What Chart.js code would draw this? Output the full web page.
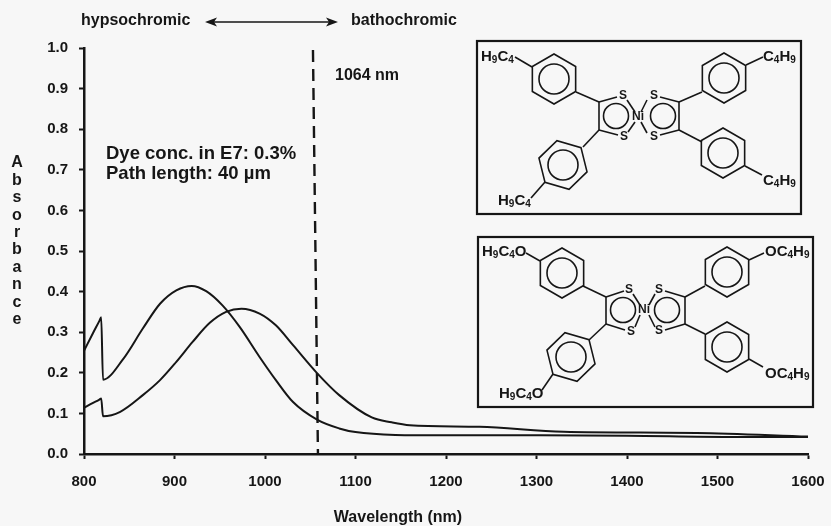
<!DOCTYPE html>
<html>
<head>
<meta charset="utf-8">
<style>
  html, body { margin: 0; padding: 0; background: #f7f7f7; }
  canvas { display: block; }
</style>
<script src="https://cdn.jsdelivr.net/npm/chart.js@4"></script>
</head>
<body>
<canvas id="absorbanceChart" width="831" height="526"></canvas>
<script>
// Series
const butylWavelength = [800, 810, 817, 819, 821, 843, 865, 884, 902, 919, 935, 953, 972, 994, 1012, 1031, 1058, 1082, 1100, 1144, 1200, 1300, 1400, 1513, 1600];
const butylAbsorbance = [0.254, 0.298, 0.328, 0.337, 0.183, 0.233, 0.309, 0.37, 0.403, 0.414, 0.401, 0.366, 0.313, 0.239, 0.182, 0.128, 0.084, 0.063, 0.054, 0.047, 0.046, 0.046, 0.045, 0.042, 0.042];
const butoxyWavelength = [800, 810, 817, 819, 821, 840, 865, 884, 902, 920, 939, 957, 974, 994, 1012, 1031, 1058, 1082, 1118, 1140, 1160, 1237, 1330, 1477, 1600];
const butoxyAbsorbance = [0.114, 0.126, 0.134, 0.137, 0.093, 0.104, 0.145, 0.182, 0.227, 0.276, 0.323, 0.35, 0.358, 0.346, 0.317, 0.268, 0.198, 0.145, 0.09, 0.078, 0.071, 0.067, 0.055, 0.052, 0.043];
const markerWavelength = [1053, 1058.5];
const markerAbsorbance = [0.995, 0.0];

const xTicks = [800, 900, 1000, 1100, 1200, 1300, 1400, 1500, 1600];
const yTicks = [0, 0.1, 0.2, 0.3, 0.4, 0.5, 0.6, 0.7, 0.8, 0.9, 1.0];
const yAxisLetters = ['A', 'b', 's', 'o', 'r', 'b', 'a', 'n', 'c', 'e'];

const inkColor = '#161616';
const fontFamily = '"Liberation Sans", Arial, sans-serif';

// Structure drawings, coordinates are relative to each box corner
// rings are [x, y, rotation in degrees]
const butylStructure = {
    box: [477, 41, 324, 173],
    rings: [[77, 38, 0], [247, 37, 0], [86, 124, -14], [246, 112, 0]],
    circles: [[139, 75], [186, 75]],
    bonds: [
        [122, 61, 99, 51], [122, 89, 106, 106], [202, 61, 225, 51], [202, 89, 225, 101],
        [122, 61, 122, 89], [202, 61, 202, 89],
        [122, 61, 140, 56], [122, 89, 141, 94], [202, 61, 183, 56], [202, 89, 183, 94],
        [150, 59, 158, 71], [151, 91, 158, 81], [170, 59, 164, 71], [170, 92, 164, 81],
        [38, 16, 55, 26], [269, 24, 286, 16], [68, 141, 54, 157], [268, 125, 285, 134]
    ],
    atoms: [[146, 55, 'S'], [147, 96, 'S'], [177, 55, 'S'], [177, 96, 'S'], [161, 76, 'Ni']],
    groups: [['H9C4', 4, 20], ['C4H9', 286, 20], ['H9C4', 21, 164], ['C4H9', 286, 144]]
};
const butoxyStructure = {
    box: [478, 237, 335, 170],
    rings: [[84, 36, 0], [249, 35, 0], [93, 120, -14], [249, 110, 0]],
    circles: [[145, 73], [189, 73]],
    bonds: [
        [128, 60, 105, 49], [128, 87, 111, 103], [207, 60, 227, 49], [207, 87, 227, 97],
        [128, 60, 128, 87], [207, 60, 207, 87],
        [128, 60, 146, 54], [128, 87, 147, 93], [207, 60, 187, 54], [207, 87, 187, 93],
        [155, 57, 162, 68], [157, 90, 162, 78], [177, 57, 171, 68], [177, 90, 171, 78],
        [48, 16, 62, 24], [271, 23, 286, 16], [75, 137, 64, 153], [271, 122, 285, 130]
    ],
    atoms: [[151, 53, 'S'], [153, 95, 'S'], [181, 53, 'S'], [181, 94, 'S'], [166, 73, 'Ni']],
    groups: [['H9C4O', 4, 19], ['OC4H9', 287, 19], ['H9C4O', 21, 161], ['OC4H9', 287, 141]]
};

function toPoints(xs, ys) {
    return xs.map((x, i) => ({ x: x, y: ys[i] }));
}

function line(ctx, x1, y1, x2, y2) {
    ctx.beginPath();
    ctx.moveTo(x1, y1);
    ctx.lineTo(x2, y2);
    ctx.stroke();
}

function phenyl(ctx, cx, cy, rotation, r) {
    const start = (30 + rotation) * Math.PI / 180;
    ctx.beginPath();
    for (let i = 0; i < 6; i++) {
        const a = start + i * Math.PI / 3;
        ctx.lineTo(cx + r * Math.cos(a), cy + r * Math.sin(a));
    }
    ctx.closePath();
    ctx.stroke();
    ctx.beginPath();
    ctx.arc(cx, cy, r * 0.6, 0, Math.PI * 2);
    ctx.stroke();
}

// Group label with small subscript digits, e.g. H9C4
function groupLabel(ctx, text, x, y) {
    ctx.textAlign = 'left';
    ctx.textBaseline = 'alphabetic';
    let pos = x;
    for (const ch of text) {
        const isDigit = ch >= '0' && ch <= '9';
        ctx.font = 'bold ' + (isDigit ? 10 : 15) + 'px ' + fontFamily;
        ctx.fillText(ch, pos, isDigit ? y + 2 : y);
        pos += ctx.measureText(ch).width;
    }
}

function drawStructure(ctx, s) {
    const ox = s.box[0];
    const oy = s.box[1];
    ctx.lineWidth = 2.2;
    ctx.strokeRect(ox, oy, s.box[2], s.box[3]);
    ctx.lineWidth = 1.6;
    s.rings.forEach(r => phenyl(ctx, ox + r[0], oy + r[1], r[2], 25));
    s.circles.forEach(c => {
        ctx.beginPath();
        ctx.arc(ox + c[0], oy + c[1], 12.5, 0, Math.PI * 2);
        ctx.stroke();
    });
    s.bonds.forEach(b => line(ctx, ox + b[0], oy + b[1], ox + b[2], oy + b[3]));
    ctx.font = 'bold 12px ' + fontFamily;
    ctx.textAlign = 'center';
    ctx.textBaseline = 'middle';
    s.atoms.forEach(a => ctx.fillText(a[2], ox + a[0], oy + a[1]));
    s.groups.forEach(g => groupLabel(ctx, g[0], ox + g[1], oy + g[2]));
}

// Everything the picture has besides the axes and curves
const annotationPlugin = {
    id: 'annotations',
    afterDraw(chart) {
        const ctx = chart.ctx;
        ctx.save();
        ctx.fillStyle = inkColor;
        ctx.strokeStyle = inkColor;

        ctx.font = 'bold 16px ' + fontFamily;
        ctx.textAlign = 'left';
        ctx.textBaseline = 'middle';
        ctx.fillText('hypsochromic', 81, 21);
        ctx.fillText('bathochromic', 351, 21);
        ctx.fillText('1064 nm', 335, 76);

        // double arrow between the two words
        ctx.lineWidth = 1.6;
        line(ctx, 208, 22, 335, 22);
        ctx.beginPath();
        ctx.moveTo(205, 22); ctx.lineTo(217, 17.5); ctx.lineTo(214, 22); ctx.lineTo(217, 26.5);
        ctx.closePath();
        ctx.fill();
        ctx.beginPath();
        ctx.moveTo(338, 22); ctx.lineTo(326, 17.5); ctx.lineTo(329, 22); ctx.lineTo(326, 26.5);
        ctx.closePath();
        ctx.fill();

        ctx.font = 'bold 18.5px ' + fontFamily;
        ctx.fillText('Dye conc. in E7: 0.3%', 106, 154);
        ctx.fillText('Path length: 40 \u00b5m', 106, 174);

        // stacked y axis title
        ctx.font = 'bold 16px ' + fontFamily;
        ctx.textAlign = 'center';
        yAxisLetters.forEach((ch, i) => ctx.fillText(ch, 17, 163 + i * 17.4));

        ctx.fillText('Wavelength (nm)', 398, 518);

        drawStructure(ctx, butylStructure);
        drawStructure(ctx, butoxyStructure);
        ctx.restore();
    }
};

const absorbanceChart = new Chart(document.getElementById('absorbanceChart'), {
    type: 'scatter',
    data: {
        datasets: [
            {
                label: 'Butyl',
                data: toPoints(butylWavelength, butylAbsorbance),
                showLine: true,
                borderColor: inkColor,
                borderWidth: 2,
                pointRadius: 0,
                cubicInterpolationMode: 'monotone'
            },
            {
                label: 'Butoxy',
                data: toPoints(butoxyWavelength, butoxyAbsorbance),
                showLine: true,
                borderColor: inkColor,
                borderWidth: 2,
                pointRadius: 0,
                cubicInterpolationMode: 'monotone'
            },
            {
                label: '1064 nm',
                data: toPoints(markerWavelength, markerAbsorbance),
                showLine: true,
                borderColor: inkColor,
                borderWidth: 2.4,
                borderDash: [12, 7],
                pointRadius: 0
            }
        ]
    },
    options: {
        responsive: false,
        animation: false,
        layout: { padding: { top: 48, right: 23, bottom: 0, left: 0 } },
        plugins: {
            legend: { display: false },
            tooltip: { enabled: false }
        },
        scales: {
            x: {
                type: 'linear',
                min: 800,
                max: 1600,
                afterBuildTicks(axis) { axis.ticks = xTicks.map(v => ({ value: v })); },
                afterFit(axis) { axis.height = 72; axis.paddingLeft = 0; axis.paddingRight = 0; },
                grid: { drawOnChartArea: false, color: inkColor, tickLength: 5, tickWidth: 2 },
                border: { color: inkColor, width: 2.5 },
                ticks: { color: inkColor, font: { family: fontFamily, size: 15, weight: 'bold' }, padding: 14, maxRotation: 0, callback: v => String(v) }
            },
            y: {
                min: 0,
                max: 1,
                afterBuildTicks(axis) { axis.ticks = yTicks.map(v => ({ value: v })); },
                afterFit(axis) { axis.width = 84; axis.paddingTop = 0; axis.paddingBottom = 0; },
                grid: { drawOnChartArea: false, color: inkColor, tickLength: 5, tickWidth: 2 },
                border: { color: inkColor, width: 2.5 },
                ticks: { color: inkColor, font: { family: fontFamily, size: 15, weight: 'bold' }, padding: 11, callback: v => v.toFixed(1) }
            }
        }
    },
    plugins: [annotationPlugin]
});
</script>
</body>
</html>
